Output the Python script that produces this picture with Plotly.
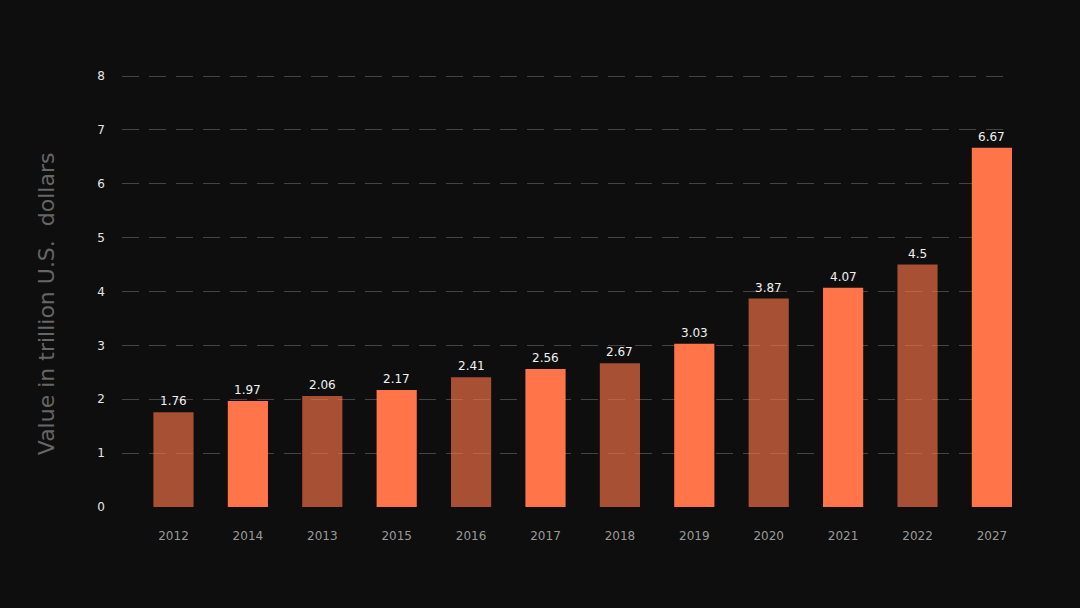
import plotly.graph_objects as go

years = ["2012", "2014", "2013", "2015", "2016", "2017", "2018", "2019", "2020", "2021", "2022", "2027"]
values = [1.76, 1.97, 2.06, 2.17, 2.41, 2.56, 2.67, 3.03, 3.87, 4.07, 4.5, 6.67]
labels = ["1.76", "1.97", "2.06", "2.17", "2.41", "2.56", "2.67", "3.03", "3.87", "4.07", "4.5", "6.67"]
y_ticks = [0, 1, 2, 3, 4, 5, 6, 7, 8]

BRIGHT = "rgba(255,117,73,1)"
DIM = "rgba(255,117,73,0.64)"
colors = [DIM if i % 2 == 0 else BRIGHT for i in range(len(years))]

FONT = "DejaVu Sans"

fig = go.Figure()
fig.add_trace(go.Bar(
    x=years, y=values,
    marker=dict(color=colors, line=dict(width=0)),
    width=0.54,
    hoverinfo="skip",
))

for i, (v, t) in enumerate(zip(values, labels)):
    fig.add_annotation(x=i, y=v, text=t, showarrow=False, yanchor="bottom", yshift=2,
                       font=dict(family=FONT, size=12, color="#f2f2f2"))

fig.add_annotation(xref="paper", yref="paper", x=-0.084, y=0.47, xanchor="center", yanchor="middle",
                   text="Value in trillion U.S.  dollars", textangle=-90, showarrow=False,
                   font=dict(family=FONT, size=22, color="#666666"))

fig.update_layout(
    width=1080, height=608,
    paper_bgcolor="#0e0e0e", plot_bgcolor="#0e0e0e",
    margin=dict(l=122, r=68, t=75, b=101),
    showlegend=False,
    font=dict(family=FONT),
    xaxis=dict(type="category", range=[-0.692, 11.27], showgrid=False, zeroline=False,
               showline=False, ticks="", tickfont=dict(family=FONT, size=12, color="#9a9a9a"),
               ticklabelstandoff=20),
    yaxis=dict(range=[0, 8.02], tickvals=y_ticks, showgrid=True, gridcolor="#444444",
               griddash="17px,10px", gridwidth=1, zeroline=False, showline=False, ticks="",
               tickfont=dict(family=FONT, size=12, color="#e6e6e6"), ticklabelstandoff=16),
)

fig.write_html("out.html", config={"displayModeBar": False},
               post_script="document.body.style.margin='0';document.body.style.background='#0e0e0e';document.body.style.overflow='hidden';")
